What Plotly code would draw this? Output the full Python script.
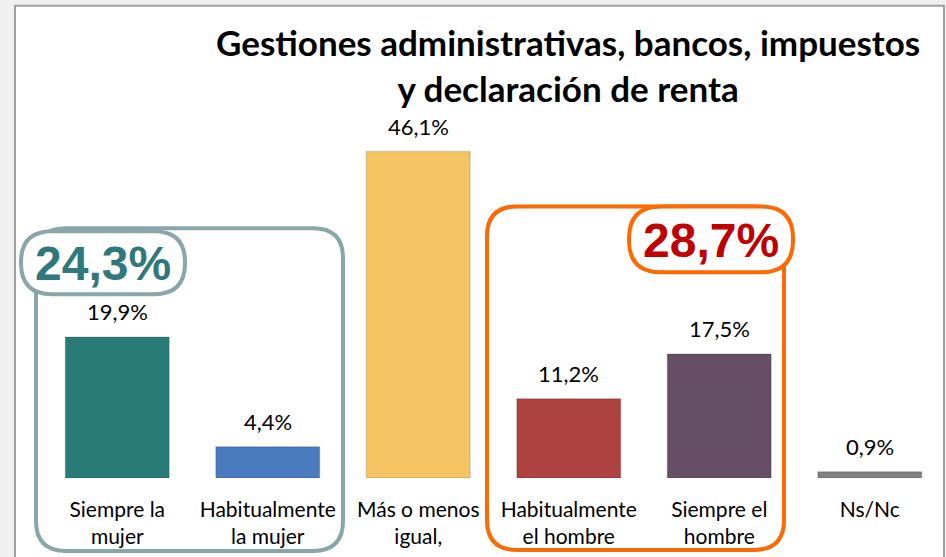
import plotly.graph_objects as go

# Survey answers: who handles paperwork, banks, taxes and income-tax returns
categories = ["Siempre la mujer", "Habitualmente la mujer", "Más o menos igual,",
              "Habitualmente el hombre", "Siempre el hombre", "Ns/Nc"]
tick_labels = ["Siempre la<br>mujer", "Habitualmente<br>la mujer", "Más o menos<br>igual,",
               "Habitualmente<br>el hombre", "Siempre el<br>hombre", "Ns/Nc"]
values = [19.9, 4.4, 46.1, 11.2, 17.5, 0.9]
bar_colors = ["#297b78", "#4a7bbf", "#f5c462", "#ad4240", "#654e66", "#808080"]

women_total = round(values[0] + values[1], 1)
men_total = round(values[3] + values[4], 1)

W, H = 946, 557
ML, MR, MT, MB = 42, 1, 123.5, 79
Y_MAX = 50


def fmt(v):
    return f"{v:.1f}".replace(".", ",") + "%"


# pixel -> paper helpers for decorative shapes
PW = W - ML - MR
PH = H - MT - MB


def px(x):
    return (x - ML) / PW


def py(y):
    return (H - MB - y) / PH


def rounded_rect(x0, y0, x1, y1, r):
    """SVG path (paper coords) for a rounded rectangle given in pixels."""
    pts = [
        f"M {px(x0 + r)} {py(y0)}",
        f"L {px(x1 - r)} {py(y0)}",
        f"Q {px(x1)} {py(y0)} {px(x1)} {py(y0 + r)}",
        f"L {px(x1)} {py(y1 - r)}",
        f"Q {px(x1)} {py(y1)} {px(x1 - r)} {py(y1)}",
        f"L {px(x0 + r)} {py(y1)}",
        f"Q {px(x0)} {py(y1)} {px(x0)} {py(y1 - r)}",
        f"L {px(x0)} {py(y0 + r)}",
        f"Q {px(x0)} {py(y0)} {px(x0 + r)} {py(y0)}",
        "Z",
    ]
    return " ".join(pts)


fig = go.Figure()
fig.add_trace(go.Bar(
    x=categories,
    y=values,
    width=0.69,
    marker=dict(color=bar_colors, line=dict(color="rgba(0,0,0,0.13)", width=1.5)),
    hoverinfo="x+y",
))

shapes = [
    # white chart panel with grey frame
    dict(type="rect", xref="paper", yref="paper", layer="below",
         x0=px(15), x1=px(944), y0=py(5), y1=py(620),
         fillcolor="white", line=dict(color="#a0a0a0", width=2)),
    # women group frame + pill
    dict(type="path", xref="paper", yref="paper", layer="above",
         path=rounded_rect(36, 228, 343, 551, 30),
         line=dict(color="#8ba6a9", width=4)),
    dict(type="path", xref="paper", yref="paper", layer="above",
         path=rounded_rect(21, 231, 185, 294, 31),
         fillcolor="white", line=dict(color="#8ba6a9", width=4)),
    # men group frame + pill
    dict(type="path", xref="paper", yref="paper", layer="above",
         path=rounded_rect(487, 206, 784, 550, 30),
         line=dict(color="#ff6a00", width=4)),
    dict(type="path", xref="paper", yref="paper", layer="above",
         path=rounded_rect(629, 206, 793, 272, 32),
         fillcolor="white", line=dict(color="#ff6a00", width=4)),
]

annotations = [
    dict(xref="paper", yref="paper", x=px(568), y=py(64), xanchor="center", yanchor="middle",
         text="<b>Gestiones administrativas, bancos, impuestos<br>y declaración de renta</b>",
         showarrow=False, font=dict(family="Lato", size=35, color="black")),
    dict(xref="paper", yref="paper", x=px(103), y=py(263), xanchor="center", yanchor="middle",
         text=f"<b>{fmt(women_total)}</b>", showarrow=False,
         font=dict(family="Liberation Sans", size=48, color="#31777b")),
    dict(xref="paper", yref="paper", x=px(711), y=py(240), xanchor="center", yanchor="middle",
         text=f"<b>{fmt(men_total)}</b>", showarrow=False,
         font=dict(family="Liberation Sans", size=48, color="#c00000")),
]
for c, v in zip(categories, values):
    annotations.append(dict(x=c, y=v, xref="x", yref="y", yanchor="bottom",
                            yshift=10, text=fmt(v), showarrow=False,
                            font=dict(family="Lato", size=22, color="black")))

fig.update_layout(
    width=W, height=H,
    margin=dict(l=ML, r=MR, t=MT, b=MB),
    paper_bgcolor="#f0f0f0",
    plot_bgcolor="rgba(0,0,0,0)",
    showlegend=False,
    shapes=shapes,
    annotations=annotations,
    xaxis=dict(tickmode="array", tickvals=categories, ticktext=tick_labels,
               tickfont=dict(family="Lato", size=21, color="black"),
               ticks="", showline=False, showgrid=False, zeroline=False,
               ticklabelstandoff=17, fixedrange=True),
    yaxis=dict(range=[0, Y_MAX], visible=False, fixedrange=True),
)

fig.write_html("out.html")
